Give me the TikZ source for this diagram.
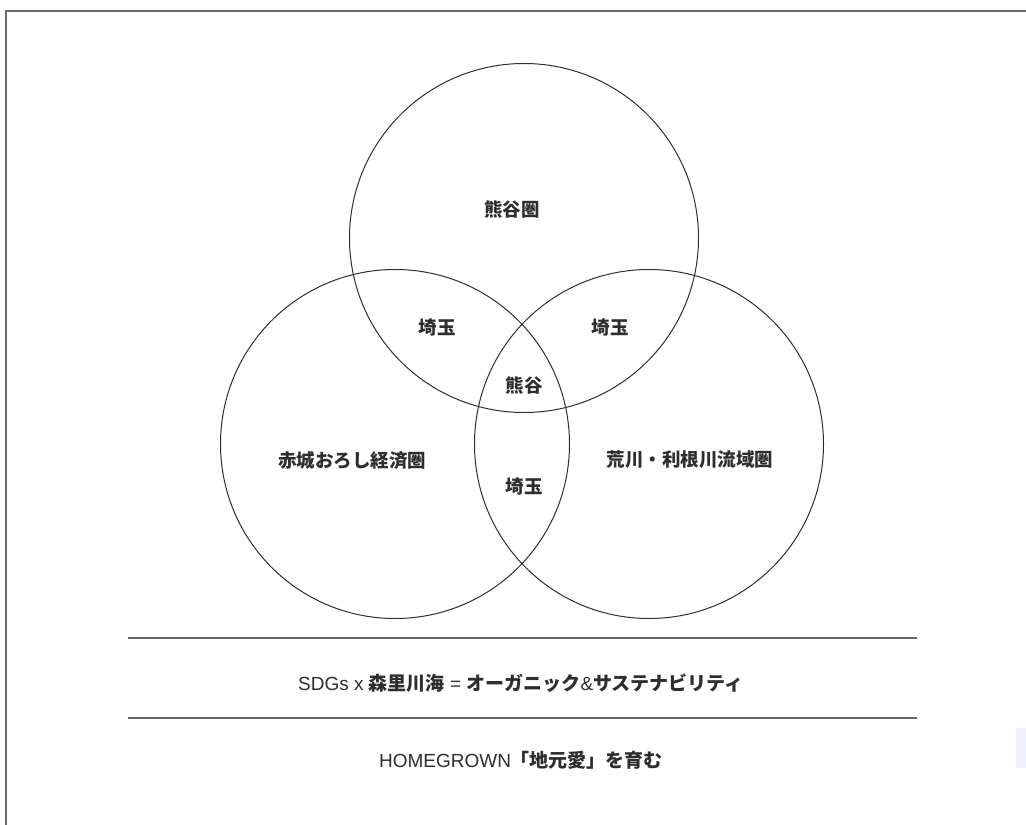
\documentclass[tikz,border=0pt]{standalone}
\usepackage{fontspec}
\newfontfamily\jpfont{Noto Sans CJK JP}
\newfontfamily\latfont{Liberation Sans}
\usetikzlibrary{positioning,calc}
\definecolor{framegray}{HTML}{6A6A6A}
\definecolor{inkgray}{HTML}{2E2E2E}
\newcommand*{\lbl}[1]{{\jpfont\bfseries #1}}
\newcommand*{\lt}[1]{{\latfont #1}}

\begin{document}
\begin{tikzpicture}[x=1pt,y=-1pt,
  ring/.style={draw=inkgray,line width=1pt,circle,minimum size=349pt,inner sep=0pt},
  tag/.style={text=inkgray,inner sep=0pt,font=\fontsize{18.5}{22}\selectfont},
  slogan/.style={text=inkgray,inner sep=0pt,font=\fontsize{19}{22}\selectfont},
  rule/.style={draw=framegray,line width=1.4pt}]
\useasboundingbox (0,0) rectangle (1026,825);
% Outer frame (open to the right and bottom)
\coordinate (fbl) at (6,825);
\coordinate (ftl) at (6,11);
\coordinate (ftr) at (1026,11);
\draw[framegray,line width=2pt] (fbl) -- (ftl) -- (ftr);
% Three overlapping circles
\node[ring] (top) at (524,238) {};
\node[ring] (left) at (395,444) {};
\node[ring] (right) at (649,444) {};
% Region labels
\node[tag] (kumagaya-ken) at (512,209) {\lbl{熊谷圏}};
\node[tag] (saitama-l) at (437,328) {\lbl{埼玉}};
\node[tag] (saitama-r) at (610,328) {\lbl{埼玉}};
\node[tag] (kumagaya) at (524,385) {\lbl{熊谷}};
\node[tag] (akagi) at (352,460) {\lbl{赤城おろし経済圏}};
\node[tag] (saitama-b) at (524,487) {\lbl{埼玉}};
\node[tag] (arakawa) at (690,460) {\lbl{荒川・利根川流域圏}};
% Two rules with the slogans
\coordinate (r1a) at (128,638);
\coordinate (r1b) at (917,638);
\coordinate (r2a) at (128,718);
\coordinate (r2b) at (917,718);
\draw[rule] (r1a) -- (r1b);
\draw[rule] (r2a) -- (r2b);
\node[slogan] (sdgs) at (521,683)
  {\lt{SDGs x }\lbl{森里川海}\lt{ = }\lbl{オーガニック}\lt{\&}\lbl{サステナビリティ}};
\node[slogan] (homegrown) at (521,760)
  {\lt{HOMEGROWN}\lbl{「地元愛」を育む}};
% faint tab at the right edge
\fill[blue!6] (1016,728) rectangle (1026,768);
\end{tikzpicture}
\end{document}
